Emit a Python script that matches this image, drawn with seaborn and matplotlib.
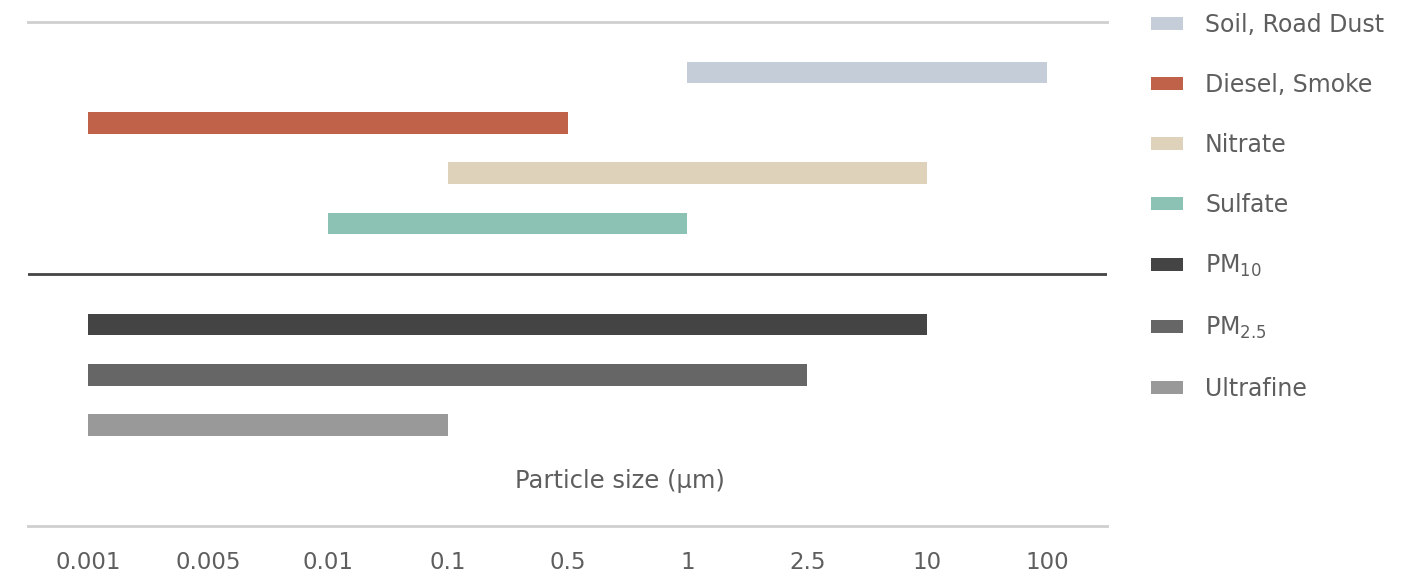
import matplotlib
matplotlib.use("Agg")
import matplotlib.pyplot as plt
import seaborn as sns
import pandas as pd
from matplotlib.patches import Patch

# ---- data ----
size_ticks = ["0.001", "0.005", "0.01", "0.1", "0.5", "1", "2.5", "10", "100"]
sources = ["Soil, Road Dust", "Diesel, Smoke", "Nitrate", "Sulfate",
           "PM$_{10}$", "PM$_{2.5}$", "Ultrafine"]
range_start = ["1", "0.001", "0.1", "0.01", "0.001", "0.001", "0.001"]
range_end = ["100", "0.5", "10", "1", "10", "2.5", "0.1"]
colors = ["#c5cdd9", "#c0614a", "#dfd2bb", "#8cc2b4", "#444444", "#666666", "#999999"]
x_label = "Particle size (µm)"

# ---- style ----
sns.set_style("white")
FONT = "DejaVu Sans"
plt.rcParams["font.family"] = [FONT]
plt.rcParams["mathtext.fontset"] = "dejavusans"
plt.rcParams["mathtext.default"] = "regular"
TEXT = "#5e5e5e"

pos = {t: i for i, t in enumerate(size_ticks)}
df = pd.DataFrame({
    "source": sources,
    "start": [pos[s] for s in range_start],
    "span": [pos[e] - pos[s] for s, e in zip(range_start, range_end)],
})
row_order = sources[:4] + [" "] + sources[4:]

fig = plt.figure(figsize=(14.23, 5.74), dpi=100)
ax = fig.add_axes([28 / 1423, 1 - 526 / 574, (1107 - 28) / 1423, (526 - 22) / 574])

for i in range(len(df)):
    row = df.iloc[[i]]
    sns.barplot(data=row, x="span", y="source", order=row_order, orient="h",
                left=float(row["start"].iloc[0]), color=colors[i], saturation=1,
                width=0.43, errorbar=None, linewidth=0, ax=ax)

ax.set_ylim(9, -1)
ax.set_xlim(-0.5, 8.5)
ax.set_yticks([])
ax.set_ylabel("")
ax.set_xlabel("")
ax.set_xticks(range(len(size_ticks)))
ax.set_xticklabels(size_ticks, fontsize=16.5, color=TEXT)
ax.tick_params(axis="x", length=0, pad=18)

for s in ["left", "right"]:
    ax.spines[s].set_visible(False)
for s in ["top", "bottom"]:
    ax.spines[s].set_visible(True)
    ax.spines[s].set_color("#cfcfcf")
    ax.spines[s].set_linewidth(2)

ax.axhline(4, color="#444444", lw=2)

ax.text(0.549, 0.089, x_label, transform=ax.transAxes, ha="center", va="center",
        fontsize=17.5, color=TEXT)

handles = [Patch(facecolor=c, edgecolor="none", label=l) for c, l in zip(colors, sources)]
ax.legend(handles=handles, loc="upper left", bbox_to_anchor=(1151 / 1423, 0.977),
          bbox_transform=fig.transFigure, frameon=False, fontsize=17,
          handlelength=1.36, handleheight=0.47, handletextpad=0.93,
          labelspacing=1.52, borderaxespad=0, borderpad=0, labelcolor=TEXT)

fig.savefig("out.png", dpi=100)
